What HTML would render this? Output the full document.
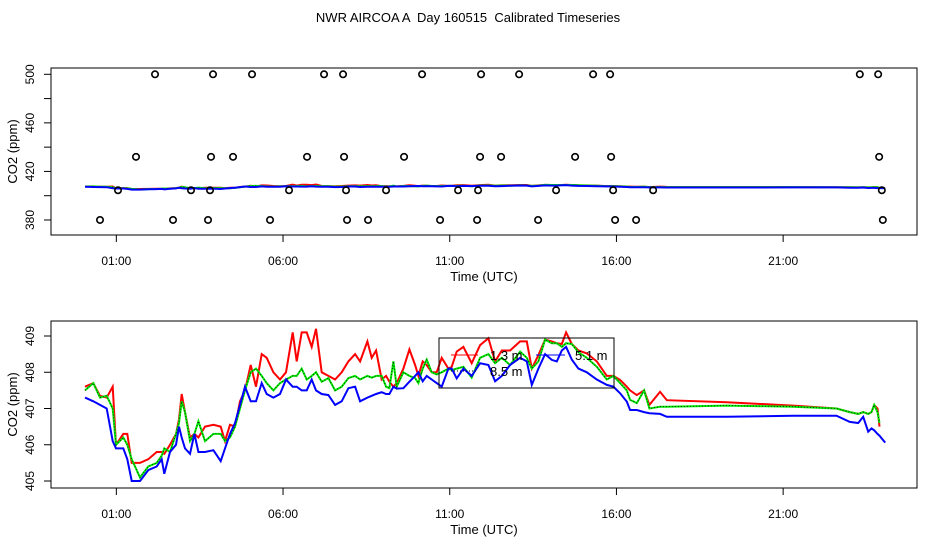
<!DOCTYPE html>
<html><head><meta charset="utf-8"><style>
html,body{margin:0;padding:0;background:#fff;}
svg{display:block;font-family:"Liberation Sans",sans-serif;}
</style></head><body>
<svg id="chart" width="936" height="540" viewBox="0 0 936 540" xmlns="http://www.w3.org/2000/svg">
<text x="468" y="22" text-anchor="middle" font-size="13" style="white-space:pre" xml:space="preserve">NWR AIRCOA A  Day 160515  Calibrated Timeseries</text>
<g id="top"></g>
<g id="bot"></g>
</svg>
<script>
// ---- data ----
const tickHours = [1, 6, 11, 16, 21];
const tickLabels = ["01:00", "06:00", "11:00", "16:00", "21:00"];
const topYTicks = [380, 400, 420, 440, 460, 480, 500];
const topYLabels = [380, 420, 460, 500];
const botYTicks = [405, 406, 407, 408, 409];
const times = [0.06,0.31,0.51,0.71,0.89,0.99,1.21,1.33,1.46,1.71,1.96,2.21,2.36,2.44,2.61,2.79,2.88,2.96,3.06,3.21,3.34,3.46,3.66,3.91,4.13,4.26,4.41,4.56,4.71,4.86,5.03,5.19,5.36,5.51,5.71,5.91,6.09,6.29,6.41,6.56,6.71,6.86,6.99,7.16,7.36,7.56,7.76,7.96,8.16,8.31,8.53,8.66,8.79,8.96,9.09,9.19,9.31,9.41,9.61,9.79,9.96,10.06,10.19,10.31,10.46,10.61,10.76,10.96,11.06,11.21,11.41,11.66,11.91,12.16,12.36,12.56,12.81,13.11,13.31,13.46,13.66,13.86,14.06,14.21,14.36,14.49,14.66,14.86,15.11,15.41,15.71,15.91,16.11,16.31,16.41,16.61,16.83,16.99,17.31,17.51,19.31,21.3,22.6,23.0,23.25,23.4,23.55,23.65,23.73,23.83,23.89];
const red1 = [407.6,407.7,407.35,407.3,407.6,406.0,406.3,406.3,405.5,405.5,405.6,405.8,405.8,405.75,406.0,406.3,406.7,407.4,406.9,406.2,406.3,406.2,406.5,406.55,406.5,406.1,406.55,406.5,407.2,407.5,408.2,407.6,408.5,408.4,408.0,407.8,408.0,409.1,408.3,409.1,409.1,408.7,409.2,408.0,407.9,407.8,408.0,408.3,408.5,408.3,408.85,408.4,408.6,407.8,407.9,407.74,407.6,407.7,408.1,408.63,408.2,407.9,408.3,408.2,408.0,408.0,408.4,408.1,408.15,408.57,408.7,408.25,408.75,408.94,408.3,408.6,408.6,408.85,408.85,408.1,408.47,408.9,408.85,408.8,408.78,409.1,408.78,408.6,408.52,408.3,407.9,407.9,407.79,407.6,407.5,407.37,407.5,407.1,407.46,407.23,407.17,407.08,407.0,406.9,406.85,406.9,406.85,406.9,407.1,407.0,406.5];
const green8 = [407.5,407.7,407.3,407.35,407.0,406.0,406.2,406.0,405.6,405.1,405.4,405.5,405.7,405.9,405.8,406.3,406.6,407.2,406.9,406.1,406.3,406.65,406.1,406.3,406.3,406.1,406.2,406.5,407.0,407.5,408.0,408.1,407.9,407.7,407.5,407.7,407.8,407.9,407.9,408.1,407.8,407.9,408.0,407.74,407.84,407.5,407.6,407.84,407.9,407.8,407.9,407.85,407.9,407.9,407.6,407.56,408.3,407.6,408.0,407.9,407.84,407.7,408.1,408.35,408.0,407.94,408.0,408.1,408.06,408.1,408.15,407.85,408.4,408.5,408.25,408.4,408.2,408.57,408.4,408.1,408.3,408.9,408.8,408.8,408.7,408.8,408.78,408.55,408.4,408.15,407.8,407.9,407.7,407.5,407.24,407.15,407.5,407.0,407.05,407.05,407.08,407.05,407.0,406.9,406.85,406.9,406.85,406.9,407.1,406.9,406.6];
const blue5 = [407.3,407.2,407.1,407.0,406.1,405.9,405.9,405.6,405.0,405.0,405.3,405.4,405.6,405.2,405.8,406.0,406.5,406.2,405.9,405.75,406.3,405.8,405.8,405.85,405.55,405.9,406.3,406.6,407.1,407.6,407.2,407.2,407.7,407.4,407.3,407.4,407.8,407.6,407.6,407.5,407.5,407.8,407.5,407.4,407.37,407.1,407.2,407.56,407.6,407.2,407.3,407.35,407.4,407.45,407.4,407.4,407.6,407.55,407.56,407.74,407.9,408.0,407.75,407.9,407.8,407.7,407.6,408.1,408.1,407.83,408.1,407.9,408.25,408.2,407.75,407.9,408.2,408.4,408.3,407.65,408.1,408.5,408.34,408.3,408.6,408.7,408.35,408.1,408.0,407.8,407.65,407.6,407.42,407.19,406.96,406.96,406.9,406.87,406.85,406.77,406.77,406.8,406.8,406.63,406.6,406.77,406.36,406.45,406.4,406.3,406.25];
const blueTailT = [23.89, 24.06];
const blueTailV = [406.25, 406.06];
const ptHours = [2.16,3.90,5.07,7.23,7.80,10.17,11.94,13.08,15.30,15.81,23.30,23.85, 1.59,3.84,4.50,6.72,7.83,9.63,11.91,12.54,14.76,15.84,23.88, 1.05,3.24,3.81,6.18,7.89,9.09,11.25,11.85,14.19,15.90,17.10,23.96, 0.51,2.70,3.75,5.61,7.92,8.55,10.71,11.82,13.65,15.96,16.59,23.99];
const ptValues = [500,500,500,500,500,500,500,500,500,500,500,500, 432,432,432,432,432,432,432,432,432,432,432, 404.5,404.5,404.5,404.5,404.5,404.5,404.5,404.5,404.5,404.5,404.5,404.5, 380,380,380,380,380,380,380,380,380,380,380,380];

const NS = "http://www.w3.org/2000/svg";
function mk(parent, tag, attrs, text) {
  const e = document.createElementNS(NS, tag);
  for (const k in attrs) e.setAttribute(k, attrs[k]);
  if (text !== undefined) e.textContent = text;
  parent.appendChild(e);
  return e;
}
const X = h => 83 + h * 33.34;
const LEFT = 51, RIGHT = 917;

function panel(g, top, bottom, yf, yTicks, yLabels, labelY, titleY) {
  const box = mk(g, "rect", {x: LEFT, y: top, width: RIGHT - LEFT, height: bottom - top, fill: "none", stroke: "#000", "stroke-width": 1});
  
  
  tickHours.forEach((h, i) => {
    const t = mk(g, "line", {x1: X(h), x2: X(h), y1: bottom, y2: bottom + 7, stroke: "#000"});
    
    
    const l = mk(g, "text", {x: X(h), y: labelY, "text-anchor": "middle", "font-size": 12}, tickLabels[i]);
    
    
  });
  const xt = mk(g, "text", {x: 484, y: titleY, "text-anchor": "middle", "font-size": 13}, "Time (UTC)");
  
  
  yTicks.forEach(v => {
    const t = mk(g, "line", {x1: LEFT - 7, x2: LEFT, y1: yf(v), y2: yf(v), stroke: "#000"});
    
    
  });
  yLabels.forEach(v => {
    const l = mk(g, "text", {x: 0, y: 0, "text-anchor": "middle", "font-size": 12, transform: `translate(34,${yf(v)}) rotate(-90)`}, String(v));
    
    
  });
  const yt = mk(g, "text", {x: 0, y: 0, "text-anchor": "middle", "font-size": 13, transform: `translate(17,${(top + bottom) / 2}) rotate(-90)`}, "CO2 (ppm)");
  
  
}
function pts(ts, vs, yf) { return ts.map((t, i) => X(t).toFixed(1) + "," + yf(vs[i]).toFixed(1)).join(" "); }
function series(g, yf) {
  const r = mk(g, "polyline", {points: pts(times, red1, yf), fill: "none", stroke: "#ff0000", "stroke-width": 2});
  
  
  const gr = mk(g, "polyline", {points: pts(times, green8, yf), fill: "none", stroke: "#00ee00", "stroke-width": 2});
  
  
  const gd = mk(g, "polyline", {points: pts(times, green8, yf), fill: "none", stroke: "#000", "stroke-width": 0.8, "stroke-dasharray": "1,2"});
  
  
  const b = mk(g, "polyline", {points: pts(times.concat(blueTailT), blue5.concat(blueTailV), yf), fill: "none", stroke: "#0000ff", "stroke-width": 2});
  
  
}

// top panel
const gt = document.getElementById("top");
const yTop = v => 74.3 + (500 - v) * 1.214;
panel(gt, 68, 235, yTop, topYTicks, topYLabels, 265, 281);
series(gt, yTop);
ptHours.forEach((h, i) => {
  const c = mk(gt, "circle", {cx: X(h), cy: yTop(ptValues[i]), r: 3.2, fill: "none", stroke: "#000", "stroke-width": 1.6});
  
  
});

// bottom panel
const gb = document.getElementById("bot");
const yBot = v => 336 + (409 - v) * 36.25;
panel(gb, 321, 488, yBot, botYTicks, botYTicks, 518, 534);
series(gb, yBot);

// legend
const lg = mk(gb, "g", {});


const lb = mk(lg, "rect", {x: 439, y: 338, width: 175, height: 50, fill: "none", stroke: "#000"});


const l1 = mk(lg, "line", {x1: 451, x2: 478, y1: 355, y2: 355, stroke: "#ff0000"});


const t1 = mk(lg, "text", {x: 490, y: 360, "font-size": 13}, "1.3 m");


const l2 = mk(lg, "line", {x1: 536, x2: 565, y1: 355, y2: 355, stroke: "#0000ff"});


const t2 = mk(lg, "text", {x: 575, y: 360, "font-size": 13}, "5.1 m");


const l3 = mk(lg, "line", {x1: 451, x2: 478, y1: 371, y2: 371, stroke: "#000", "stroke-dasharray": "1,2"});


const t3 = mk(lg, "text", {x: 490, y: 376, "font-size": 13}, "8.5 m");


</script>
</body></html>
